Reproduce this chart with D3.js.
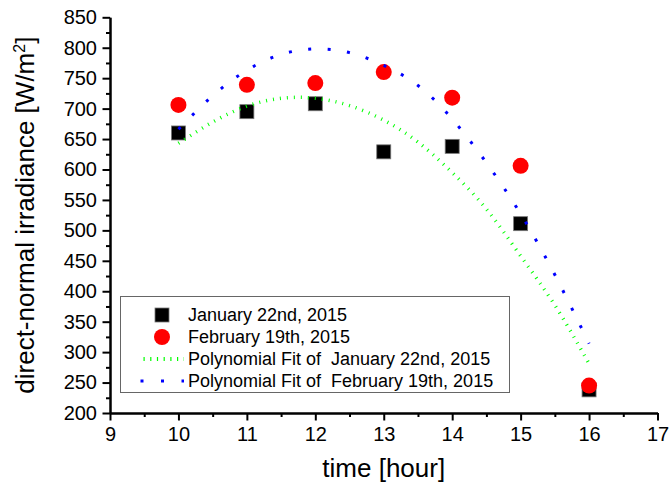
<!DOCTYPE html>
<html>
<head>
<meta charset="utf-8">
<script src="https://cdn.jsdelivr.net/npm/d3@7"></script>
<style>
  html, body { margin: 0; padding: 0; background: #fff; }
  svg { display: block; font-family: "Liberation Sans", Arial, sans-serif; }
</style>
</head>
<body>
<div id="chart"></div>
<script>
// measured points
const hours = [10, 11, 12, 13, 14, 15, 16];
const january = [660, 695, 708, 629, 638, 511, 238];
const february = [706, 739, 742, 760, 718, 606, 245];

// fit curves, every half hour
const fitHours = [10, 10.5, 11, 11.5, 12, 12.5, 13, 13.5, 14, 14.5, 15, 15.5, 16];
const januaryFit = [643, 678, 704, 717, 717, 705, 681, 645, 595, 535, 458, 377, 281];
const februaryFit = [666, 721, 763, 789, 798, 792, 771, 738, 683, 611, 527, 427, 314];

const xTicks = [9, 10, 11, 12, 13, 14, 15, 16, 17];
const yTicks = [200, 250, 300, 350, 400, 450, 500, 550, 600, 650, 700, 750, 800, 850];

const legendLabels = [
    "January 22nd, 2015",
    "February 19th, 2015",
    "Polynomial Fit of \u00a0January 22nd, 2015",
    "Polynomial Fit of \u00a0February 19th, 2015"
];

const svgWidth = 670, svgHeight = 488;
let margin = {top: 17.3, right: 12.5, bottom: 75, left: 110};

let x = d3.scaleLinear().domain([9, 17]).range([margin.left, svgWidth - margin.right]);
let y = d3.scaleLinear().domain([200, 850]).range([svgHeight - margin.bottom, margin.top]);

let svg = d3.select("#chart")
    .append("svg")
    .attr("width", svgWidth)
    .attr("height", svgHeight);

function styleAxis(g, fontSize) {
    g.select(".domain").attr("stroke", "#000").attr("stroke-width", 2);
    g.selectAll(".tick line").attr("stroke", "#000").attr("stroke-width", 2);
    g.selectAll(".tick text")
        .attr("fill", "#000")
        .style("font-size", fontSize + "px")
        .style("font-family", "'Liberation Sans', Arial, sans-serif");
}

// minor ticks first, major axes on top
let halfHours = d3.range(9.5, 17, 1);
let yMinor = d3.range(225, 850, 50);

svg.append("g")
    .attr("transform", `translate(0, ${y(200)})`)
    .call(d3.axisBottom(x).tickValues(halfHours).tickSize(4).tickSizeOuter(0).tickFormat(""))
    .call(g => styleAxis(g, 20));

svg.append("g")
    .attr("transform", `translate(${x(9)}, 0)`)
    .call(d3.axisLeft(y).tickValues(yMinor).tickSize(4).tickSizeOuter(0).tickFormat(""))
    .call(g => styleAxis(g, 20));

svg.append("g")
    .attr("transform", `translate(0, ${y(200)})`)
    .call(d3.axisBottom(x).tickValues(xTicks).tickSize(7.5).tickPadding(6.5).tickSizeOuter(0).tickFormat(d3.format("d")))
    .call(g => styleAxis(g, 20));

svg.append("g")
    .attr("transform", `translate(${x(9)}, 0)`)
    .call(d3.axisLeft(y).tickValues(yTicks).tickSize(7.5).tickPadding(5.5).tickSizeOuter(0).tickFormat(d3.format("d")))
    .call(g => styleAxis(g, 20));

// axis titles
svg.append("text")
    .attr("x", (x(9) + x(17)) / 2)
    .attr("y", 477)
    .attr("text-anchor", "middle")
    .style("font-size", "26px")
    .text("time [hour]");

let yTitle = svg.append("text")
    .attr("transform", `translate(34, ${(y(200) + y(850)) / 2 + 0}) rotate(-90)`)
    .attr("text-anchor", "middle")
    .style("font-size", "26px");
yTitle.append("tspan").text("direct-normal irradiance [W/m");
yTitle.append("tspan").attr("dy", -9).style("font-size", "16px").text("2");
yTitle.append("tspan").attr("dy", 9).text("]");

// markers
svg.append("g").selectAll("rect")
    .data(hours)
    .enter()
    .append("rect")
    .attr("x", (d, i) => x(d) - 7)
    .attr("y", (d, i) => y(january[i]) - 7)
    .attr("width", 14)
    .attr("height", 14)
    .attr("fill", "#000")
    .attr("stroke", "#777")
    .attr("stroke-width", 0.8);

svg.append("g").selectAll("circle")
    .data(hours)
    .enter()
    .append("circle")
    .attr("cx", d => x(d))
    .attr("cy", (d, i) => y(february[i]))
    .attr("r", 8)
    .attr("fill", "#ff0000");

// fit curves
let line = d3.line().curve(d3.curveNatural);

svg.append("path")
    .attr("d", line(fitHours.map((h, i) => [x(h), y(januaryFit[i])])))
    .attr("fill", "none")
    .attr("stroke", "#00ff00")
    .attr("stroke-width", 3.5)
    .attr("stroke-dasharray", "1 6");

svg.append("path")
    .attr("d", line(fitHours.map((h, i) => [x(h), y(februaryFit[i])])))
    .attr("fill", "none")
    .attr("stroke", "#0000ff")
    .attr("stroke-width", 3)
    .attr("stroke-dasharray", "3 16.5");

// legend
let legend = svg.append("g");
legend.append("rect")
    .attr("x", 120.5)
    .attr("y", 296.5)
    .attr("width", 389)
    .attr("height", 96)
    .attr("fill", "#fff")
    .attr("stroke", "#666")
    .attr("stroke-width", 1);

let rowY = [315, 337, 359, 381];
legend.append("rect")
    .attr("x", 155).attr("y", rowY[0] - 7)
    .attr("width", 14).attr("height", 14)
    .attr("fill", "#000").attr("stroke", "#777").attr("stroke-width", 0.8);
legend.append("circle")
    .attr("cx", 162).attr("cy", rowY[1]).attr("r", 8)
    .attr("fill", "#ff0000");
legend.append("line")
    .attr("x1", 143.5).attr("x2", 184).attr("y1", rowY[2]).attr("y2", rowY[2])
    .attr("stroke", "#00ff00").attr("stroke-width", 4)
    .attr("stroke-dasharray", "1.2 5.5");
legend.append("line")
    .attr("x1", 140.5).attr("x2", 184).attr("y1", rowY[3]).attr("y2", rowY[3])
    .attr("stroke", "#0000ff").attr("stroke-width", 3)
    .attr("stroke-dasharray", "3 17.5");

legend.selectAll("text.label")
    .data(legendLabels)
    .enter()
    .append("text")
    .classed("label", true)
    .attr("x", 188)
    .attr("y", (d, i) => rowY[i])
    .attr("dy", "0.35em")
    .style("font-size", "18px")
    .text(d => d);
</script>
</body>
</html>
